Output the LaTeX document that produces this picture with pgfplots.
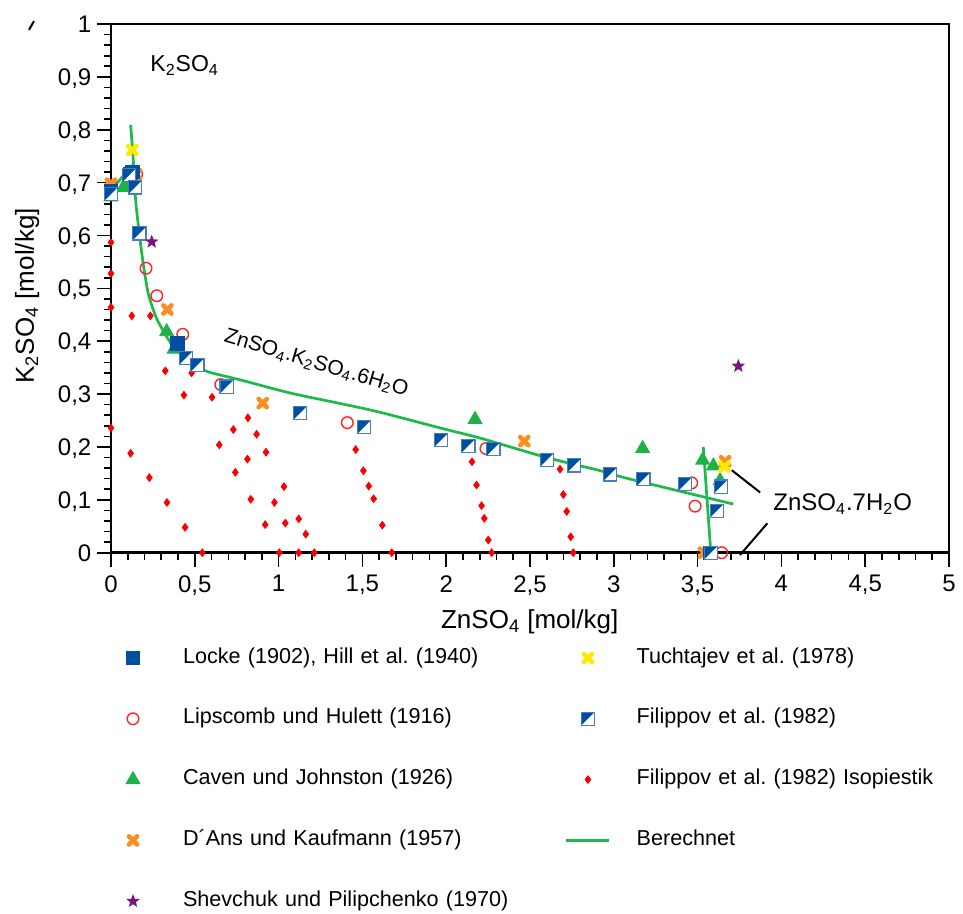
\documentclass[border=0pt]{standalone}
\usepackage{fontspec}
\setmainfont{Liberation Sans}
\usepackage{pgfplots}
\pgfplotsset{compat=1.18}
\definecolor{zblue}{RGB}{0,80,160}
\definecolor{zblueb}{RGB}{70,125,195}
\definecolor{zred}{RGB}{255,35,35}
\definecolor{zdia}{RGB}{250,0,0}
\definecolor{zgreen}{RGB}{30,178,70}
\definecolor{zlgreen}{RGB}{30,185,75}
\definecolor{zorange}{RGB}{255,140,30}
\definecolor{zyellow}{RGB}{255,235,0}
\definecolor{zpurple}{RGB}{120,20,130}
\pgfdeclareplotmark{halfsq}{%
  \pgfpathrectangle{\pgfpoint{-\pgfplotmarksize}{-\pgfplotmarksize}}{\pgfpoint{2\pgfplotmarksize}{2\pgfplotmarksize}}%
  \pgfsetfillcolor{white}\pgfusepath{fill}%
  \pgfpathmoveto{\pgfpoint{-\pgfplotmarksize}{-\pgfplotmarksize}}%
  \pgfpathlineto{\pgfpoint{-\pgfplotmarksize}{\pgfplotmarksize}}%
  \pgfpathlineto{\pgfpoint{\pgfplotmarksize}{\pgfplotmarksize}}%
  \pgfpathclose
  \pgfsetfillcolor{zblue}\pgfusepath{fill}%
  \pgfpathrectangle{\pgfpoint{-\pgfplotmarksize}{-\pgfplotmarksize}}{\pgfpoint{2\pgfplotmarksize}{2\pgfplotmarksize}}%
  \pgfsetstrokecolor{zblueb}\pgfsetlinewidth{0.6pt}\pgfusepath{stroke}%
}
\pgfdeclareplotmark{fstar}{%
  \pgfpathmoveto{\pgfpointpolar{90}{\pgfplotmarksize}}%
  \pgfpathlineto{\pgfpointpolar{126}{0.42\pgfplotmarksize}}%
  \pgfpathlineto{\pgfpointpolar{162}{\pgfplotmarksize}}%
  \pgfpathlineto{\pgfpointpolar{198}{0.42\pgfplotmarksize}}%
  \pgfpathlineto{\pgfpointpolar{234}{\pgfplotmarksize}}%
  \pgfpathlineto{\pgfpointpolar{270}{0.42\pgfplotmarksize}}%
  \pgfpathlineto{\pgfpointpolar{306}{\pgfplotmarksize}}%
  \pgfpathlineto{\pgfpointpolar{342}{0.42\pgfplotmarksize}}%
  \pgfpathlineto{\pgfpointpolar{18}{\pgfplotmarksize}}%
  \pgfpathlineto{\pgfpointpolar{54}{0.42\pgfplotmarksize}}%
  \pgfpathclose
  \pgfusepathqfill
}
\pgfplotsset{
  mylinelegend/.style={legend image code/.code={\draw[##1] (-2.25pt,0pt) -- (19.25pt,0pt);}},
  locke/.style={only marks, mark=square*, mark size=3.3pt, color=zblue},
  lips/.style={only marks, mark=o, mark size=2.9pt, color=zred, mark options={line width=0.7pt}},
  caven/.style={only marks, mark=triangle*, mark size=4pt, color=zgreen},
  dans/.style={only marks, mark=x, mark size=2.9pt, color=zorange, mark options={line width=2.3pt, line cap=round}},
  tuch/.style={only marks, mark=x, mark size=2.9pt, color=zyellow, mark options={line width=2.3pt, line cap=round}},
  shev/.style={only marks, mark=fstar, mark size=3.6pt, color=zpurple},
  filip/.style={only marks, mark=halfsq, mark size=3.3pt, color=zblue},
  iso/.style={only marks, mark=diamond*, mark size=1.9pt, color=zdia},
  calc/.style={no marks, color=zlgreen, line width=1.35pt},
}
\begin{document}
\begin{tikzpicture}
\begin{axis}[
  at={(0,0)}, anchor=south west,
  width=419pt, height=264.35pt, scale only axis,
  xmin=0, xmax=5, ymin=0, ymax=1,
  clip=false,
  xtick={0,0.5,1,1.5,2,2.5,3,3.5,4,4.5,5},
  ytick={0,0.1,0.2,0.3,0.4,0.5,0.6,0.7,0.8,0.9,1},
  minor x tick num=4, minor y tick num=4,
  tick align=outside, tick pos=left,
  major tick length=7pt, minor tick length=3.5pt,
  axis line style={line width=1.35pt},
  every tick/.style={black, line width=0.8pt},
  /pgf/number format/use comma,
  /pgf/number format/assume math mode=true,
  ticklabel style={font=\fontsize{12}{14}\selectfont},
  yticklabel style={inner sep=0pt, anchor=base east, xshift=-2.65pt, yshift=-4.3pt},
  xticklabel style={inner sep=0pt, anchor=north, yshift=-4.15pt},
  xlabel={ZnSO\textsubscript{4} [mol/kg]},
  ylabel={K\textsubscript{2}SO\textsubscript{4} [mol/kg]},
  label style={font=\fontsize{13}{15}\selectfont},
  xlabel style={at={(axis description cs:0.4997,0)}, anchor=center, yshift=-34.5pt, inner sep=0pt},
  ylabel style={at={(axis description cs:-0.1002,0.4855)}, anchor=center, inner sep=0pt},
  legend columns=2,
  legend cell align=left,
  legend style={
    at={(0,0)}, anchor=north west, xshift=7.54pt, yshift=-47.65pt,
    draw=none, fill=none, inner sep=0pt, outer sep=0pt,
    font=\fontsize{10.8}{12}\selectfont,
    row sep=20.4pt,
    nodes={inner sep=0pt, text width=175pt, align=left, text height=7.5pt, text depth=2.5pt},
    /tikz/column 1/.style={column sep=21.54pt},
    /tikz/column 2/.style={column sep=16pt},
    /tikz/column 3/.style={column sep=13pt},
  },
]
% Filippov et al. (1982) Isopiestik
\addplot[iso, forget plot] coordinates {
(0,0.587)(0,0.528)(0,0.464)(0.124,0.448)(0.235,0.448)(0.324,0.344)(0.481,0.340)
(0.435,0.298)(0.603,0.294)(0.817,0.255)(0.73,0.233)(0.869,0.224)(0.646,0.204)
(0.925,0.190)(0.814,0.177)(0.742,0.152)(1.032,0.125)(0.834,0.101)(0.975,0.095)
(1.12,0.064)(0.92,0.053)(1.04,0.056)(1.162,0.035)(0.545,0)(1.004,0)(1.12,0)(1.213,0)
(0,0.236)(0.117,0.188)(0.229,0.142)(0.334,0.095)(0.442,0.048)
(1.46,0.195)(1.506,0.155)(1.538,0.126)(1.567,0.102)(1.619,0.052)(1.675,0)
(2.154,0.172)(2.181,0.128)(2.211,0.089)(2.227,0.065)(2.251,0.024)(2.271,0)
(2.679,0.158)(2.699,0.11)(2.719,0.078)(2.743,0.030)(2.758,0)
};
% Berechnet
\addplot[calc, forget plot] coordinates {(0,0.686)(0.129,0.733)};
\addplot[calc, forget plot, smooth] coordinates {
(0.117,0.809)(0.133,0.743)(0.147,0.667)(0.169,0.604)(0.193,0.545)(0.222,0.491)
(0.263,0.450)(0.302,0.425)(0.372,0.390)(0.471,0.361)(0.571,0.343)(0.77,0.327)
(1.07,0.302)(1.37,0.282)(1.6,0.266)(2.0,0.233)(2.2,0.217)(2.6,0.180)(2.92,0.155)
(3.1,0.139)(3.713,0.092)
};
\addplot[calc, forget plot] coordinates {(3.534,0.2)(3.579,0)};
% Caven und Johnston (1926)
\addplot[caven, forget plot] coordinates {
(0,0.673)(0.074,0.691)(0.10,0.70)(0.332,0.418)(0.376,0.385)(2.172,0.252)
(3.172,0.197)(3.53,0.175)(3.594,0.164)(3.634,0.136)(3.574,0)
};
% Lipscomb und Hulett (1916)
\addplot[lips, forget plot] coordinates {
(0,0.695)(0.153,0.716)(0.209,0.538)(0.273,0.486)(0.428,0.413)(0.655,0.318)
(1.41,0.246)(2.237,0.197)(3.465,0.132)(3.485,0.088)(3.644,0)
};
% D'Ans und Kaufmann (1957)
\addplot[dans, forget plot] coordinates {
(0,0.698)(0.149,0.716)(0.336,0.46)(0.905,0.283)(2.466,0.211)(3.664,0.173)(3.538,0)
};
% Locke (1902), Hill et al. (1940)
\addplot[locke, forget plot] coordinates {
(0,0.684)(0.115,0.716)(0.128,0.721)(0.396,0.396)(3.574,0)
};
% Filippov et al. (1982)
\addplot[filip, forget plot] coordinates {
(0,0.678)(0.109,0.714)(0.143,0.691)(0.17,0.604)(0.446,0.368)(0.515,0.355)(0.69,0.314)
(1.128,0.264)(1.511,0.238)(1.969,0.213)(2.132,0.202)(2.281,0.196)(2.6,0.175)
(2.763,0.165)(2.977,0.148)(3.176,0.139)(3.425,0.13)(3.638,0.125)(3.614,0.079)(3.58,0)
};
% Tuchtajev et al. (1978)
\addplot[tuch, forget plot] coordinates {(0.127,0.762)(3.66,0.163)};
% Shevchuk und Pilipchenko (1970)
\addplot[shev, forget plot] coordinates {(0.243,0.588)(3.743,0.353)};

% legend (row-major order)
\addlegendimage{locke}\addlegendentry{Locke (1902), Hill et al.\ (1940)}
\addlegendimage{tuch}\addlegendentry{Tuchtajev et al.\ (1978)}
\addlegendimage{lips}\addlegendentry{Lipscomb und Hulett (1916)}
\addlegendimage{filip}\addlegendentry{Filippov et al.\ (1982)}
\addlegendimage{caven}\addlegendentry{Caven und Johnston (1926)}
\addlegendimage{iso}\addlegendentry{Filippov et al.\ (1982) Isopiestik}
\addlegendimage{dans}\addlegendentry{D´Ans und Kaufmann (1957)}
\addlegendimage{calc, mylinelegend}\addlegendentry{Berechnet}
\addlegendimage{shev}\addlegendentry{Shevchuk und Pilipchenko (1970)}

% annotations
\node[anchor=base west, inner sep=0pt, font=\fontsize{11.5}{13}\selectfont] at (axis cs:0.233,0.9098) {K\textsubscript{2}SO\textsubscript{4}};
\node[anchor=center, inner sep=0pt, rotate=-16.5, font=\fontsize{10.5}{12}\selectfont] at (axis cs:1.225,0.358) {ZnSO\textsubscript{4}.K\textsubscript{2}SO\textsubscript{4}.6H\textsubscript{2}O};
\node[anchor=base west, inner sep=0pt, font=\fontsize{12}{14}\selectfont] at (axis cs:3.95,0.0789) {ZnSO\textsubscript{4}.7H\textsubscript{2}O};
\draw[line width=1pt] (axis cs:3.704,0.156) -- (axis cs:3.873,0.114);
\draw[line width=1pt] (axis cs:3.916,0.0556) -- (axis cs:3.753,-0.0044);
\end{axis}
\draw[line width=1pt] (-41pt,261.4pt) -- (-38.5pt,265.8pt);
\pgfresetboundingbox
\path (-55.5pt,-180.65pt) rectangle (426pt,276.35pt);
\end{tikzpicture}
\end{document}
